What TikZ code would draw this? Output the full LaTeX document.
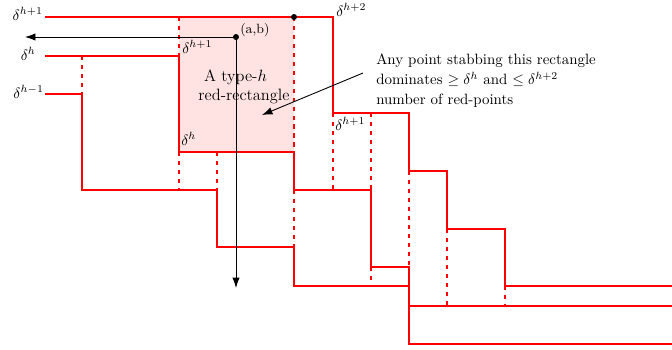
\documentclass[tikz,border=0pt]{standalone}
\usetikzlibrary{arrows.meta}
\begin{document}
\begin{tikzpicture}[x=0.67pt,y=-0.67pt,
  redl/.style={red, line width=0.85pt},
  reddash/.style={red, dashed, line width=0.7pt},
  lbl/.style={inner sep=0pt},
  blk/.style={black, line width=0.6pt, -{Latex[length=7pt,width=5pt]}}]
\useasboundingbox (0,0) rectangle (672,349);
\fill[red!11] (179,17) rectangle (294,152);
% staircase curves
\draw[redl] (45,17) -| (333,113) -| (409,171) -| (447,229) -| (505,286) -- (672,286);
\draw[redl] (45,56) -| (179,152) -| (294,190) -| (371,267) -| (409,306) -- (672,306);
\draw[redl] (45,94) -| (82,190) -| (217,247) -| (294,286) -| (409,344) -- (672,344);
% dashed extensions
\draw[reddash] (82,56) -- (82,94);
\draw[reddash] (179,17) -- (179,56);
\draw[reddash] (179,152) -- (179,190);
\draw[reddash] (217,152) -- (217,190);
\draw[reddash] (294,17) -- (294,152);
\draw[reddash] (294,190) -- (294,247);
\draw[reddash] (333,113) -- (333,190);
\draw[reddash] (371,113) -- (371,190);
\draw[reddash] (371,267) -- (371,286);
\draw[reddash] (409,171) -- (409,267);
\draw[reddash] (447,229) -- (447,306);
\draw[reddash] (505,286) -- (505,306);
% point (a,b)
\coordinate (ab) at (236,37);
\coordinate (leftend) at (25,37);
\coordinate (downend) at (236,288);
\coordinate (corner) at (294,17);
\draw[blk] (ab) -- (leftend);
\draw[blk] (ab) -- (downend);
\fill (ab) circle (2pt);
\fill (corner) circle (2pt);
\node[lbl, anchor=west, font=\small] (abl) at (240,30) {(a,b)};
% labels
\node[lbl, anchor=east] (l1) at (43,14) {$\delta^{h+1}$};
\node[lbl, anchor=east] (l2) at (36,54) {$\delta^{h}$};
\node[lbl, anchor=east] (l3) at (44,92) {$\delta^{h-1}$};
\node[lbl, anchor=west] (l4) at (336,10) {$\delta^{h+2}$};
\node[lbl, anchor=west] (l5) at (182,47) {$\delta^{h+1}$};
\node[lbl, anchor=west] (l6) at (181,139) {$\delta^{h}$};
\node[lbl, anchor=west] (l7) at (335,124) {$\delta^{h+1}$};
\node[lbl, anchor=base, font=\fontsize{11}{13}\selectfont] (t1) at (235.5,81) {A type-$h$};
\node[lbl, anchor=base, font=\fontsize{11}{13}\selectfont] (t2) at (244,100) {red-rectangle};
% annotation
\node[lbl, anchor=north west, align=left, font=\fontsize{10}{13.4}\selectfont] (ann) at (376,53.5)
  {Any point stabbing this rectangle\\ dominates $\geq \delta^{h}$ and $\leq \delta^{h+2}$\\ number of red-points};
\coordinate (as) at (363,73);
\coordinate (ae) at (262,115);
\draw[blk] (as) -- (ae);
\end{tikzpicture}
\end{document}
